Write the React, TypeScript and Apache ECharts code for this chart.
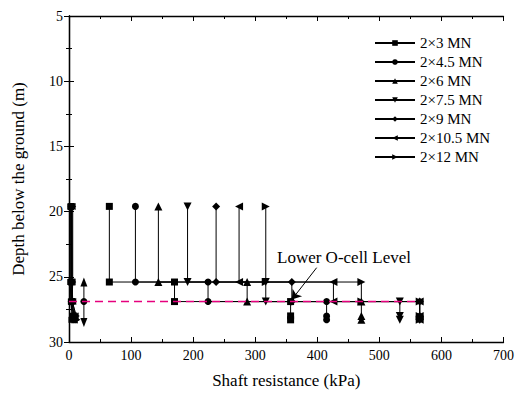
import React, { useEffect, useRef } from "react";
import * as echarts from "echarts";

// Depth levels (m) of the segment boundaries
const depthLevels = [19.6, 25.4, 26.9, 28.0, 28.3];
const lowerCellDepth = 26.9;

// Load stages
const loadNames = ["2×3 MN", "2×4.5 MN", "2×6 MN", "2×7.5 MN", "2×9 MN", "2×10.5 MN", "2×12 MN"];

// Shaft resistance (kPa) of the upper, middle and lower segments
const upperSegment = [65, 107, 144, 191, 237, 274, 317];
const middleSegment = [170, 224, 287, 317, 359, 426, 471];
const lowerSegment = [357, 415, 471, 533, 565, 565, 565];

// Near-zero readings along the pile axis at each depth level
const nearAxis = [
  [2, 2, 3, 5, 4],
  [3, 3, 3, 6, 7],
  [3, 4, 4, 7, 9],
  [4, 4, 5, 8, 6],
  [4, 5, 4, 9, 11],
  [5, 5, 6, 10, 8],
  [6, 6, 5, 12, 13],
];

// Marker for each load stage
const markerShapes = ["rect", "circle", "triangle", "triangle", "diamond", "triangle", "triangle"];
const markerRotations = [0, 0, 0, 180, 0, 90, -90];
const markerSizes = [7, 7, 8, 8, 8, 8, 8];

// O-cell symbol (jack pushing up and down)
const oCellX = 24;
const oCellDepths = [25.4, 26.9, 28.5];

// Extent of the lower O-cell level line and its annotation
const cellLineEnd = 565;
const annotationFrom = [399, 24.3];
const annotationTo = [359, 26.75];

const FONT = '"Liberation Serif", "Times New Roman", serif';

export default function App() {
  const ref = useRef<HTMLDivElement>(null);

  useEffect(() => {
    if (!ref.current) return;
    const chart = echarts.init(ref.current, undefined, { renderer: "svg" });

    const series: any[] = [];
    loadNames.forEach((name, i) => {
      const q1 = upperSegment[i];
      const q2 = middleSegment[i];
      const q3 = lowerSegment[i];
      const profile = [
        [q1, depthLevels[0]],
        [q1, depthLevels[1]],
        [q2, depthLevels[1]],
        [q2, depthLevels[2]],
        [q3, depthLevels[2]],
        [q3, depthLevels[3]],
        [q3, depthLevels[4]],
      ];
      const common = {
        name,
        type: "line",
        symbol: markerShapes[i],
        symbolRotate: markerRotations[i],
        symbolSize: markerSizes[i],
        showAllSymbol: true,
        itemStyle: { color: "#000" },
        lineStyle: { color: "#000", width: 1 },
        z: 2,
      };
      series.push({ ...common, data: profile });
      series.push({
        ...common,
        symbolSize: markerSizes[i] - 1,
        data: depthLevels.map((d, k) => [nearAxis[i][k], d]),
      });
    });

    // O-cell icon
    series.push({
      name: "O-cell",
      type: "line",
      data: [
        { value: [oCellX, oCellDepths[0]], symbol: "triangle", symbolSize: [7, 9] },
        { value: [oCellX, oCellDepths[1]], symbol: "circle", symbolSize: 7 },
        { value: [oCellX, oCellDepths[2]], symbol: "triangle", symbolRotate: 180, symbolSize: [7, 9] },
      ],
      itemStyle: { color: "#000" },
      lineStyle: { color: "#000", width: 1 },
      z: 2,
    });

    // Lower O-cell level line with its annotation arrow
    series.push({
      name: "Lower O-cell Level",
      type: "line",
      data: [
        [0, lowerCellDepth],
        [cellLineEnd, lowerCellDepth],
      ],
      symbol: "none",
      lineStyle: { color: "#E6007E", width: 1.5, type: [8, 5] },
      z: 5,
      markLine: {
        silent: true,
        symbol: ["none", "arrow"],
        symbolSize: 9,
        label: { show: false },
        lineStyle: { color: "#000", width: 1, type: "solid" },
        data: [[{ coord: annotationFrom }, { coord: annotationTo }]],
      },
    });

    const axisCommon = {
      type: "value",
      axisLine: { show: true, lineStyle: { color: "#000", width: 1.3 } },
      axisTick: { show: true, inside: true, length: 5, lineStyle: { color: "#000" } },
      minorTick: { show: true, splitNumber: 2, length: 3, lineStyle: { color: "#000" } },
      splitLine: { show: false },
      minorSplitLine: { show: false },
    };

    chart.setOption({
      animation: false,
      backgroundColor: "#fff",
      textStyle: { fontFamily: FONT, color: "#000" },
      grid: { left: 69, right: 11, top: 16, bottom: 52, containLabel: false },
      legend: {
        data: loadNames,
        orient: "vertical",
        left: 374,
        top: 35,
        itemWidth: 40,
        itemHeight: 7,
        itemGap: 3,
        padding: 0,
        textStyle: { fontFamily: FONT, fontSize: 15, color: "#000", lineHeight: 16 },
      },
      xAxis: [
        {
          ...axisCommon,
          position: "bottom",
          min: 0,
          max: 700,
          interval: 100,
          axisLabel: { fontFamily: FONT, fontSize: 14, color: "#000", margin: 6 },
          name: "Shaft resistance (kPa)",
          nameLocation: "middle",
          nameGap: 30,
          nameTextStyle: { fontFamily: FONT, fontSize: 17, color: "#000" },
        },
        {
          ...axisCommon,
          position: "top",
          min: 0,
          max: 700,
          interval: 100,
          axisLabel: { show: false },
        },
      ],
      yAxis: [
        {
          ...axisCommon,
          position: "left",
          inverse: true,
          min: 5,
          max: 30,
          interval: 5,
          axisLabel: { fontFamily: FONT, fontSize: 14, color: "#000", margin: 6 },
          name: "Depth below the ground (m)",
          nameLocation: "middle",
          nameGap: 42,
          nameTextStyle: { fontFamily: FONT, fontSize: 17, color: "#000" },
        },
        {
          ...axisCommon,
          position: "right",
          inverse: true,
          min: 5,
          max: 30,
          interval: 5,
          axisLabel: { show: false },
        },
      ],
      graphic: [
        {
          type: "text",
          left: 277,
          top: 249,
          style: { text: "Lower O-cell Level", font: `17px ${FONT}`, fill: "#000" },
        },
      ],
      series,
    });

    return () => chart.dispose();
  }, []);

  return (
    <div
      ref={ref}
      style={{ position: "fixed", left: 0, top: 0, width: 517, height: 394, background: "#fff" }}
    />
  );
}
